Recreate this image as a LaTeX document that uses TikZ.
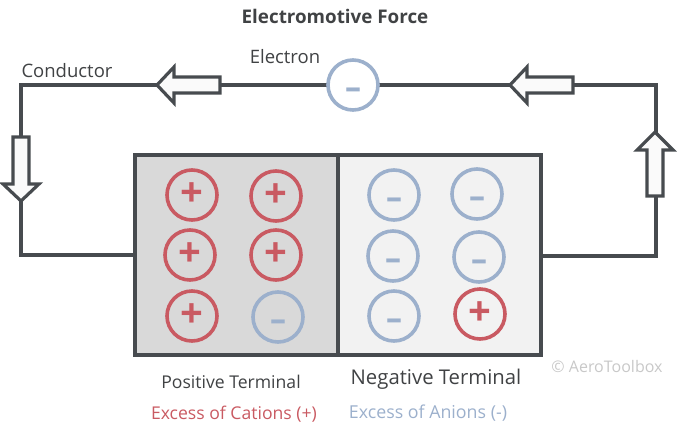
\documentclass[tikz,border=0pt]{standalone}
\usepackage{fontspec}
\setmainfont{Open Sans}
\definecolor{dark}{HTML}{474B4F}
\definecolor{txt}{HTML}{404244}
\definecolor{posred}{HTML}{C95A62}
\definecolor{negblue}{HTML}{9CB0CC}
\definecolor{leftfill}{HTML}{D9D9D9}
\definecolor{rightfill}{HTML}{F2F2F2}
\definecolor{arrowfill}{HTML}{FAFAFA}
\definecolor{copy}{HTML}{C8C8C8}
\tikzset{
  wire/.style={draw=dark, line width=3.5pt},
  fatarrow/.style={draw=dark, fill=arrowfill, line width=3.2pt, line join=miter},
  ion/.style={circle, minimum size=50pt, inner sep=0pt, line width=3.6pt},
  cation/.style={ion, draw=posred, text=posred},
  anion/.style={ion, draw=negblue, text=negblue},
  lbl/.style={text=txt, inner sep=0pt},
}
\newcommand{\plusmark}{\fontsize{40}{40}\selectfont\bfseries\raisebox{1pt}{+}}
\newcommand{\minusmark}{\fontsize{32}{32}\selectfont\bfseries\raisebox{-13pt}[0pt][0pt]{\scalebox{1.6}[1]{-}}}
\newcommand{\fs}[1]{\fontsize{#1}{#1}\selectfont}
\begin{document}
\begin{tikzpicture}[x=1pt, y=-1pt]
\useasboundingbox (0,0) rectangle (682,437);
% battery
\path[fill=leftfill] (135,155) rectangle (338,355);
\path[fill=rightfill] (338,155) rectangle (541,355);
\draw[draw=dark, line width=4pt] (135,155) rectangle (541,355);
\draw[draw=dark, line width=4pt] (338,155) -- (338,355);
\coordinate (bl) at (135,255);
\coordinate (br) at (541,256);
% corners
\coordinate (tl) at (21,85);
\coordinate (tr) at (656,85);
\coordinate (bl2) at (21,255);
\coordinate (br2) at (656,256);
\draw[wire, line join=miter] (bl) -- (bl2) -- (tl) -- (tr) -- (br2) -- (br);
% electron
\node[anion, fill=white] (e) at (353,85) {\minusmark};
% arrows
\draw[fatarrow] (157,85) -- (174,67) -- (174,77) -- (220,77) -- (220,93) -- (174,93) -- (174,103) -- cycle;
\draw[fatarrow] (510,85) -- (527,67) -- (527,77) -- (573,77) -- (573,93) -- (527,93) -- (527,103) -- cycle;
\draw[fatarrow] (21,201) -- (3,184) -- (13,184) -- (13,137) -- (29,137) -- (29,184) -- (39,184) -- cycle;
\draw[fatarrow] (655,132) -- (637,150) -- (647,150) -- (647,196) -- (663,196) -- (663,150) -- (673,150) -- cycle;
% ions
\node[cation] (p1) at (192,195) {\plusmark};
\node[cation] (p2) at (276,196) {\plusmark};
\node[cation] (p3) at (190,255) {\plusmark};
\node[cation] (p4) at (276,255) {\plusmark};
\node[cation] (p5) at (192,316) {\plusmark};
\node[anion] (n1) at (278,317) {\minusmark};
\node[anion] (n2) at (394,195) {\minusmark};
\node[anion] (n3) at (477,194) {\minusmark};
\node[anion] (n4) at (393,256) {\minusmark};
\node[anion] (n5) at (479,257) {\minusmark};
\node[anion] (n6) at (394,316) {\minusmark};
\node[cation] (p6) at (480,314) {\plusmark};
% labels
\node[lbl, font=\fs{18.8}\bfseries] (title) at (335,16) {Electromotive Force};
\node[lbl, font=\fs{18.5}] (elab) at (285,57) {Electron};
\node[lbl, font=\fs{18.5}] (clab) at (67,71) {Conductor};
\node[lbl, font=\fs{17.6}] (ptl) at (231,382) {Positive Terminal};
\node[lbl, font=\fs{20.3}] (ntl) at (436,379) {Negative Terminal};
\node[lbl, font=\fs{17.6}, text=posred] (cat) at (234,414) {Excess of Cations (+)};
\node[lbl, font=\fs{17.8}, text=negblue] (ani) at (428,413) {Excess of Anions (-)};
\node[lbl, font=\fs{16}, text=copy] (cr) at (607,366) {© AeroToolbox};
\end{tikzpicture}
\end{document}
